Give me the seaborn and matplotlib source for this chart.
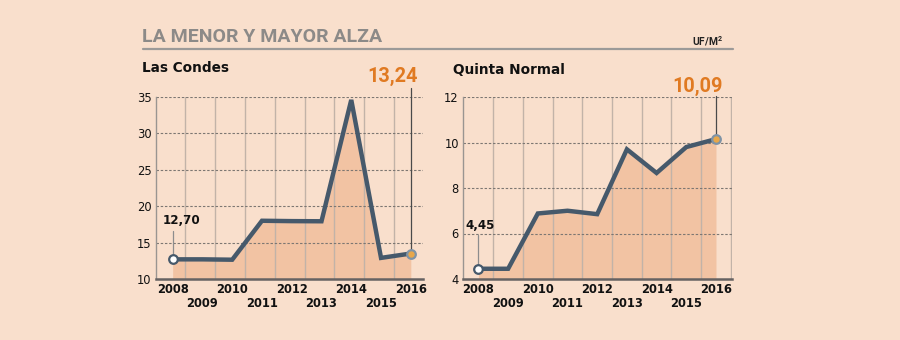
import matplotlib
matplotlib.use("Agg")
import matplotlib.pyplot as plt
import seaborn as sns
import pandas as pd
import numpy as np

years = [2008, 2009, 2010, 2011, 2012, 2013, 2014, 2015, 2016]
las_condes = [12.70, 12.70, 12.65, 18.0, 17.95, 17.93, 34.6, 12.9, 13.5]
quinta_normal = [4.45, 4.45, 6.88, 7.0, 6.85, 9.7, 8.66, 9.8, 10.15]
lc_ticks = [10, 15, 20, 25, 30, 35]
qn_ticks = [4, 6, 8, 10, 12]
lc_labels = ["12,70", "13,24"]
qn_labels = ["4,45", "10,09"]

BG = "#f9dfcc"
FILL = "#f2c3a3"
LINE = "#46596b"
ORANGE = "#e07a22"
ROBOTO = ["Roboto", "DejaVu Sans"]

sns.set_theme(style="white")
plt.rcParams["font.family"] = ["DejaVu Sans"]

fig = plt.figure(figsize=(9, 3.4), dpi=100)
fig.patch.set_facecolor(BG)

def panel(rect, values, yticks, labels, gridoff, xlim, lbl_first, lbl_last, line_top):
    ax = fig.add_axes(rect)
    ax.set_facecolor(BG)
    idx = list(range(len(years)))
    df = pd.DataFrame({"i": idx, "v": values})
    ymin, ymax = yticks[0], yticks[-1]
    ax.fill_between(df["i"], ymin, df["v"], color=FILL, lw=0, zorder=1)
    for k in idx:
        ax.axvline(k + gridoff, color="#c2b3a8", lw=1.0, zorder=2)
    for t in yticks[1:]:
        ax.axhline(t, color="#7d7772", lw=0.8, ls=(0, (2.2, 1.6)), zorder=2)
    sns.lineplot(data=df, x="i", y="v", ax=ax, color=LINE, lw=3.2, zorder=3,
                 solid_joinstyle="miter")
    lx0, ly0, ltop0 = lbl_first
    ax.plot([0, 0], [values[0], ltop0], color="#8d8d8d", lw=0.9, zorder=2.5, clip_on=False)
    ax.plot([8, 8], [values[-1], line_top], color="#4a4a4a", lw=0.9, zorder=2.5, clip_on=False)
    ax.plot([0], [values[0]], marker="o", ms=6.2, mfc="white", mec=LINE, mew=1.6, zorder=4)
    ax.plot([8], [values[-1]], marker="o", ms=6.2, mfc="#e8a74a", mec="#7f93a6", mew=1.6,
            zorder=4, clip_on=False)
    ax.text(lx0, ly0, labels[0], fontsize=8.6, fontweight="bold", color="#111111",
            ha="left", va="baseline", zorder=5)
    tx, ty = lbl_last
    ax.text(8 + tx, ty, labels[1], fontsize=14.3, fontweight="bold", color=ORANGE,
            ha="center", va="center", family=ROBOTO, clip_on=False)
    ax.set_xlim(*xlim)
    ax.set_ylim(ymin, ymax)
    ax.set_yticks(yticks)
    ax.set_yticklabels([str(t) for t in yticks], fontsize=8.3, color="#111111")
    ax.set_xticks(idx)
    ax.set_xticklabels([str(y) if i % 2 == 0 else "\n" + str(y) for i, y in enumerate(years)],
                       fontsize=8.3, color="#111111", linespacing=1.05, fontweight="bold")
    ax.tick_params(axis="both", length=0, pad=3)
    ax.set_xlabel("")
    ax.set_ylabel("")
    for s in ["top", "right"]:
        ax.spines[s].set_visible(False)
    ax.spines["left"].set_color("#9a9591")
    ax.spines["left"].set_linewidth(1.0)
    ax.spines["bottom"].set_color("#666262")
    ax.spines["bottom"].set_linewidth(1.8)
    ax.grid(False)
    return ax

ax1 = panel([155.7 / 900, 1 - 279 / 340, 267.6 / 900, 182 / 340],
            las_condes, lc_ticks, lc_labels, 0.43, (-0.57, 8.42),
            (-0.34, 17.5, 16.6), (-0.62, 37.85), 36.3)
ax2 = panel([463 / 900, 1 - 279 / 340, 268.7 / 900, 182 / 340],
            quinta_normal, qn_ticks, qn_labels, 0.5, (-0.52, 8.53),
            (-0.45, 6.18, 5.95), (-0.63, 12.48), 12.05)

fig.text(142 / 900, 1 - 37 / 340, "LA MENOR Y MAYOR ALZA", fontsize=14.0, fontweight="bold",
         color="#8c8a88", ha="left", va="center", family=ROBOTO)
fig.add_artist(plt.Line2D([143 / 900, 733 / 900], [1 - 49 / 340, 1 - 49 / 340],
                          color="#9c9a98", lw=1.6))
fig.text(723 / 900, 1 - 41 / 340, r"UF/M$^\mathregular{2}$", fontsize=7.4, fontweight="semibold",
         color="#222222", ha="right", va="center", family=ROBOTO)
fig.text(142 / 900, 1 - 67.5 / 340, "Las Condes", fontsize=9.8, fontweight="bold",
         color="#111111", ha="left", va="center")
fig.text(453 / 900, 1 - 70 / 340, "Quinta Normal", fontsize=9.8, fontweight="bold",
         color="#111111", ha="left", va="center")

fig.savefig("out.png", dpi=100, facecolor=BG)
